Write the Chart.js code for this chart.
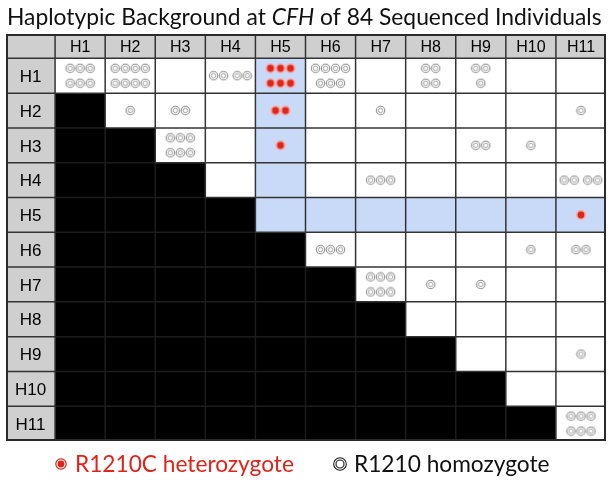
<!DOCTYPE html>
<html>
<head>
<meta charset="utf-8">
<script src="https://cdn.jsdelivr.net/npm/chart.js@4.4.1/dist/chart.umd.min.js"></script>
<style>
html,body{margin:0;padding:0;background:#fff;}
#wrap{width:612px;height:480px;}
</style>
</head>
<body>
<div id="wrap"><canvas id="c" width="612" height="480"></canvas></div>
<script>
// ---------------- data ----------------
const haplotypes = ['H1','H2','H3','H4','H5','H6','H7','H8','H9','H10','H11'];
const highlighted = 'H5';

// R1210 homozygote individuals per haplotype pair
const homRow    = ['H1','H1','H1','H1','H1','H1','H2','H2','H2','H2','H3','H3','H3','H4','H4','H6','H6','H6','H7','H7','H7','H9','H11'];
const homCol    = ['H1','H2','H4','H6','H8','H9','H2','H3','H7','H11','H3','H9','H10','H7','H11','H6','H10','H11','H7','H8','H9','H11','H11'];
const homCount  = [6,8,4,7,4,3,1,2,1,1,6,2,1,3,4,3,1,2,6,1,1,1,6];
// how the dots are grouped in a cell: '/' = new line, ' ' = new cluster
const homGroups = ['3/3','4/4','2 2','4/3','2/2','2/1','1','2','1','1','3/3','2','1','3','2 2','3','1','2','3/3','1','1','1','3/3'];

// R1210C heterozygote individuals per haplotype pair
const hetRow    = ['H1','H2','H3','H5'];
const hetCol    = ['H5','H5','H5','H11'];
const hetCount  = [6,2,1,1];
const hetGroups = ['3/3','2','1','1'];

const titleParts = [['Haplotypic Background at ', false], ['CFH', true], [' of 84 Sequenced Individuals', false]];
const legendLabels = ['R1210C heterozygote', 'R1210 homozygote'];

// ---------------- layout ----------------
const HDR_W = 0.98, HDR_H = 0.70;   // header band sizes in cell units
const DX = 0.2, DY = 0.43, GAP = 0.07;
const RED = '#e0241a';
const LABEL_FONT = 'Arial, "Liberation Sans", Helvetica, sans-serif';

function dotPositions(rowName, colName, groups, count) {
  const r = haplotypes.indexOf(rowName), c = haplotypes.indexOf(colName);
  const lines = groups.split('/');
  const pts = [];
  lines.forEach((line, li) => {
    const clusters = line.split(' ').map(Number);
    const n = clusters.reduce((a, b) => a + b, 0);
    const width = (n - 1) * DX + (clusters.length - 1) * GAP;
    let x = c + 0.5 - width / 2;
    const y = r + 0.5 + (li - (lines.length - 1) / 2) * DY;
    clusters.forEach(k => {
      for (let i = 0; i < k; i++) { pts.push({x, y}); x += DX; }
      x += GAP;
    });
  });
  return pts.slice(0, count);
}

function buildPoints(rows, cols, counts, groups) {
  let out = [];
  rows.forEach((r, i) => { out = out.concat(dotPositions(r, cols[i], groups[i], counts[i])); });
  return out;
}

function makeImg(size, draw) {
  const cv = document.createElement('canvas');
  cv.width = size; cv.height = size;
  const g = cv.getContext('2d');
  draw(g, size / 2);
  return cv;
}
const homImg = makeImg(11, (g, c) => {
  g.strokeStyle = '#8c8c8c'; g.lineWidth = 1.1;
  g.beginPath(); g.arc(c, c, 4.2, 0, Math.PI * 2); g.stroke();
  g.strokeStyle = '#a0a0a0'; g.lineWidth = 1;
  g.beginPath(); g.arc(c, c, 2.2, 0, Math.PI * 2); g.stroke();
});
const hetImg = makeImg(12, (g, c) => {
  g.fillStyle = '#f3a9a3';
  g.beginPath(); g.arc(c, c, 5, 0, Math.PI * 2); g.fill();
  g.fillStyle = RED;
  g.beginPath(); g.arc(c, c, 3.4, 0, Math.PI * 2); g.fill();
});

const gridPlugin = {
  id: 'haploGrid',
  beforeDatasetsDraw(chart) {
    const {ctx, scales: {x, y}} = chart;
    const n = haplotypes.length;
    const hi = haplotypes.indexOf(highlighted);
    const xs = v => x.getPixelForValue(v), ys = v => y.getPixelForValue(v);
    const isBlack = (r, c) => r >= 0 && c >= 0 && r < n && c < n && r > c;
    const xEdge = c => xs(c < 0 ? -HDR_W : c), yEdge = r => ys(r < 0 ? -HDR_H : r);
    ctx.save();
    for (let r = -1; r < n; r++) {
      for (let c = -1; c < n; c++) {
        const x0 = xEdge(c), x1 = xs(c + 1);
        const y0 = yEdge(r), y1 = ys(r + 1);
        let fill = '#ffffff';
        if (r < 0 || c < 0) fill = '#cfcfcf';
        else if (r > c) fill = '#000000';
        else if (r === hi || c === hi) fill = '#c9daf8';
        ctx.fillStyle = fill;
        ctx.fillRect(x0, y0, x1 - x0, y1 - y0);
      }
    }
    // grid lines, segment by segment (fainter between two black cells)
    ctx.lineWidth = 1.5;
    for (let c = 0; c < n; c++) {
      const px = xs(c);
      for (let r = -1; r < n; r++) {
        ctx.strokeStyle = (isBlack(r, c - 1) && isBlack(r, c)) ? '#1c1c1c' : '#333333';
        ctx.beginPath(); ctx.moveTo(px, yEdge(r)); ctx.lineTo(px, ys(r + 1)); ctx.stroke();
      }
    }
    for (let r = 0; r < n; r++) {
      const py = ys(r);
      for (let c = -1; c < n; c++) {
        ctx.strokeStyle = (isBlack(r - 1, c) && isBlack(r, c)) ? '#1c1c1c' : '#333333';
        ctx.beginPath(); ctx.moveTo(xEdge(c), py); ctx.lineTo(xs(c + 1), py); ctx.stroke();
      }
    }
    const top = ys(-HDR_H), bot = ys(n), left = xs(-HDR_W), right = xs(n);
    ctx.strokeStyle = '#2a2a2a';
    ctx.lineWidth = 2;
    ctx.strokeRect(left + 1, top + 1, right - left - 2, bot - top - 2);
    // header labels
    ctx.fillStyle = '#000000';
    ctx.textAlign = 'center';
    ctx.textBaseline = 'middle';
    ctx.font = '16px ' + LABEL_FONT;
    haplotypes.forEach((h, i) => {
      ctx.fillText(h, xs(i + 0.5), (ys(-HDR_H) + ys(0)) / 2 + 1.5);
    });
    ctx.font = '17px ' + LABEL_FONT;
    haplotypes.forEach((h, i) => {
      ctx.fillText(h, (xs(-HDR_W) + xs(0)) / 2, ys(i + 0.5) + 1.5);
    });
    ctx.restore();
  },
  afterDraw(chart) {
    const ctx = chart.ctx;
    ctx.save();
    ctx.textBaseline = 'alphabetic';
    ctx.textAlign = 'left';
    // title, fitted to the reference width
    const fam = 'Lato, "Open Sans", sans-serif';
    const measure = (size) => titleParts.reduce((w, [t, it]) => {
      ctx.font = `${it ? 'italic ' : ''}${size}px ${fam}`; return w + ctx.measureText(t).width; }, 0);
    const tSize = 24 * 595 / measure(24);
    let tx = 7;
    ctx.fillStyle = '#111111';
    titleParts.forEach(([t, it]) => {
      ctx.font = `${it ? 'italic ' : ''}${tSize}px ${fam}`;
      ctx.fillText(t, tx, 25);
      tx += ctx.measureText(t).width;
    });
    // legend
    ctx.font = `24px ${fam}`;
    const lSize = 24 * 219 / ctx.measureText(legendLabels[0]).width;
    ctx.font = `${lSize}px ${fam}`;
    const ly = 472;
    // heterozygote symbol
    ctx.strokeStyle = RED; ctx.fillStyle = RED; ctx.lineWidth = 1.2;
    ctx.beginPath(); ctx.arc(61, 464, 5.2, 0, Math.PI * 2); ctx.stroke();
    ctx.beginPath(); ctx.arc(61, 464, 3.4, 0, Math.PI * 2); ctx.fill();
    ctx.fillText(legendLabels[0], 75, ly);
    // homozygote symbol
    ctx.strokeStyle = '#1a1a1a'; ctx.lineWidth = 1.1;
    ctx.beginPath(); ctx.arc(340, 464, 6.3, 0, Math.PI * 2); ctx.stroke();
    ctx.beginPath(); ctx.arc(340, 464, 4.0, 0, Math.PI * 2); ctx.stroke();
    ctx.fillStyle = '#111111';
    ctx.fillText(legendLabels[1], 354, ly);
    ctx.restore();
  }
};

new Chart(document.getElementById('c'), {
  type: 'scatter',
  data: {
    datasets: [
      { label: legendLabels[1], data: buildPoints(homRow, homCol, homCount, homGroups),
        pointStyle: homImg, pointRadius: 4.5, showLine: false },
      { label: legendLabels[0], data: buildPoints(hetRow, hetCol, hetCount, hetGroups),
        pointStyle: hetImg, pointRadius: 5, showLine: false }
    ]
  },
  options: {
    responsive: false,
    animation: false,
    events: [],
    layout: { padding: { top: 34, left: 4, right: 5, bottom: 39 } },
    plugins: { legend: { display: false }, tooltip: { enabled: false }, title: { display: false } },
    scales: {
      x: { type: 'linear', min: -HDR_W, max: haplotypes.length, display: false },
      y: { type: 'linear', reverse: true, min: -HDR_H, max: haplotypes.length, display: false }
    }
  },
  plugins: [gridPlugin]
});
</script>
</body>
</html>
